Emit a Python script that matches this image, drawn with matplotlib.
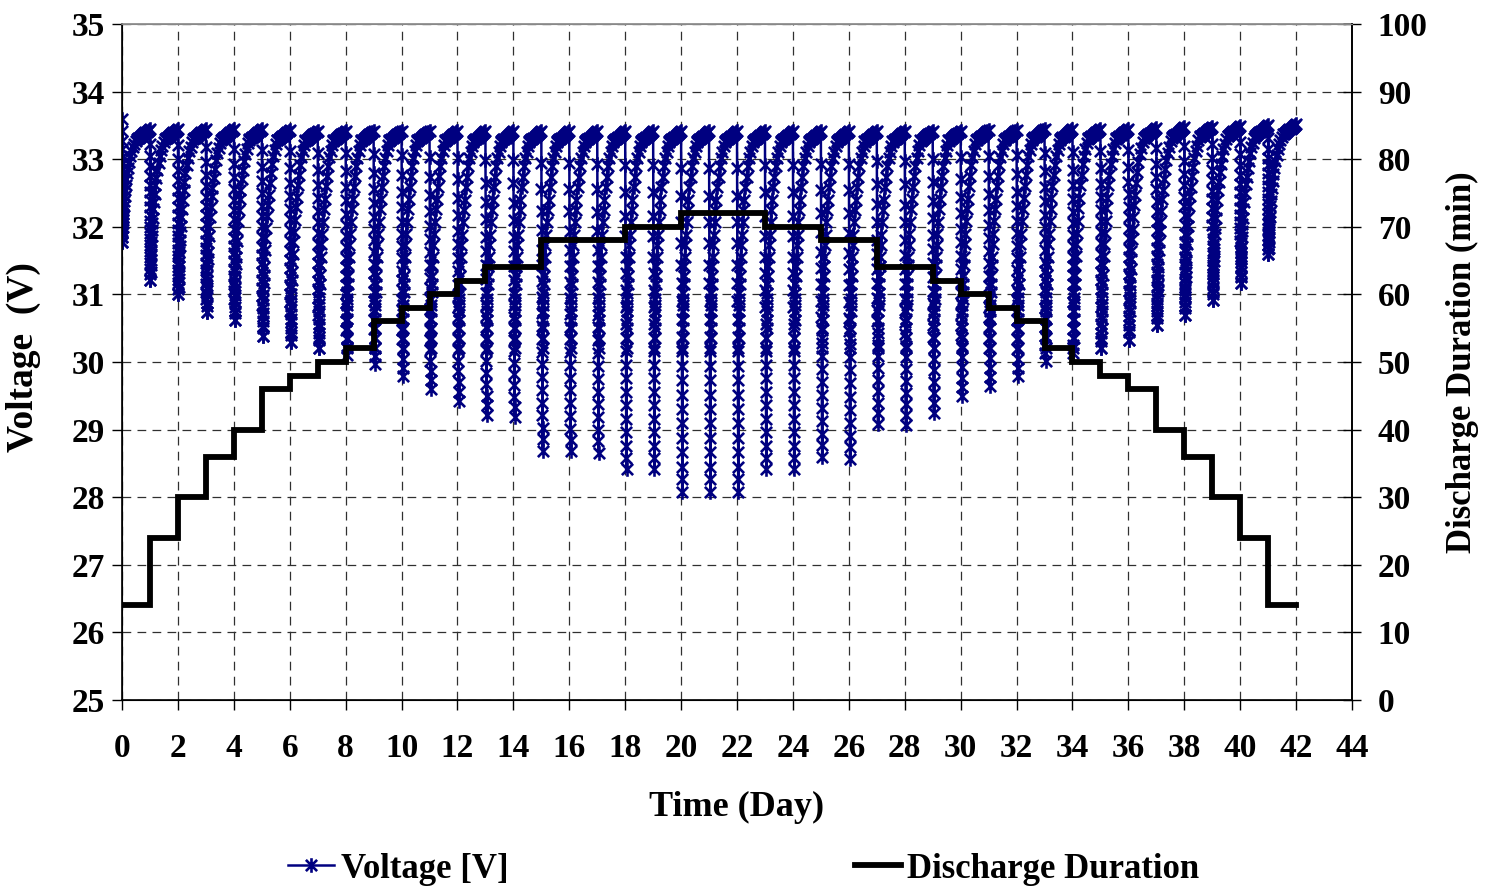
import numpy as np
import matplotlib
matplotlib.use("Agg")
import matplotlib.pyplot as plt
from matplotlib.path import Path

plt.rcParams['font.family'] = ['Liberation Serif', 'DejaVu Serif']
plt.rcParams['font.weight'] = 'bold'
plt.rcParams['font.size'] = 24

# discharge duration for each day 0..41 (min)
discharge_min = [14, 24, 30, 36, 40, 46, 48, 50, 52, 56, 58, 60, 62, 64, 64,
                 68, 68, 68, 70, 70, 72, 72, 72, 70, 70, 68, 68, 64, 64, 62,
                 60, 58, 56, 52, 50, 48, 46, 40, 36, 30, 24, 14]

# lowest voltage reached in each day's discharge (V)
day_min_v = [31.78, 31.22, 31.00, 30.74, 30.62, 30.39, 30.29, 30.21, 30.11, 29.97,
             29.79, 29.60, 29.42, 29.21, 29.19, 28.69, 28.68, 28.66, 28.41, 28.41,
             28.08, 28.08, 28.08, 28.41, 28.41, 28.60, 28.57, 29.09, 29.07, 29.25,
             29.49, 29.64, 29.79, 30.01, 30.13, 30.20, 30.33, 30.55, 30.70, 30.92,
             31.17, 31.60]

# float-charge voltage at the end of each day (V)
day_end_v = [33.45, 33.45, 33.45, 33.44, 33.44, 33.43, 33.42, 33.42, 33.42, 33.42,
             33.42, 33.42, 33.41, 33.41, 33.41, 33.41, 33.41, 33.41, 33.41, 33.41,
             33.41, 33.41, 33.41, 33.41, 33.41, 33.41, 33.41, 33.41, 33.42, 33.42,
             33.43, 33.43, 33.44, 33.44, 33.45, 33.45, 33.46, 33.47, 33.48, 33.49,
             33.50, 33.52]

first_v = 33.6          # reading at t = 0
recovery_floor = 30.2   # level the voltage jumps back to when charging resumes
float_drop = 0.15       # float voltage rise over one day

# discharge curve: share of the run time / share of the total drop
dis_t = [0.0, 0.05, 0.10, 0.15, 0.20, 0.25, 0.30, 0.35, 0.40, 0.45, 0.50,
         0.55, 0.60, 0.65, 0.70, 0.75, 0.80, 0.85, 0.90, 0.95, 1.0]
dis_f = [0.0, 0.10, 0.18, 0.25, 0.31, 0.37, 0.42, 0.47, 0.52, 0.57, 0.61,
         0.65, 0.69, 0.73, 0.77, 0.81, 0.85, 0.89, 0.93, 0.965, 1.0]

# recharge curve: days after discharge / share of the rise
rec_t = [0.0, 0.004, 0.008, 0.012, 0.016, 0.02, 0.025, 0.03, 0.04, 0.05, 0.065,
         0.08, 0.10, 0.12, 0.15, 0.18, 0.21, 0.25, 0.29, 0.33, 0.38, 0.43, 0.48, 0.53]
rec_f = [0.0, 0.05, 0.10, 0.14, 0.18, 0.21, 0.24, 0.27, 0.31, 0.35, 0.40,
         0.44, 0.50, 0.55, 0.61, 0.67, 0.72, 0.78, 0.83, 0.88, 0.92, 0.95, 0.98, 1.0]

# float charge for the rest of the day
flt_t = [0.56, 0.60, 0.64, 0.68, 0.72, 0.76, 0.80, 0.84, 0.88, 0.92, 0.96, 1.0]
flt_f = [0.05, 0.13, 0.22, 0.30, 0.39, 0.47, 0.56, 0.64, 0.73, 0.82, 0.91, 1.0]

# build the logged voltage series
t_day = [0.0]
volt = [first_v]
top = first_v
for d in range(len(discharge_min)):
    dur = discharge_min[d] / 1440.0
    vmin = day_min_v[d]
    for t, f in zip(dis_t[1:], dis_f[1:]):
        t_day.append(d + t * dur)
        volt.append(top - f * (top - vmin))
    r0 = max(vmin, recovery_floor)
    v_float0 = day_end_v[d] - float_drop
    for t, f in zip(rec_t, rec_f):
        t_day.append(d + dur + t)
        volt.append(r0 + f * (v_float0 - r0))
    for t, f in zip(flt_t, flt_f):
        t_day.append(d + t)
        volt.append(v_float0 + f * float_drop)
    top = day_end_v[d]

step_x = list(range(len(discharge_min) + 1))
step_y = discharge_min + [discharge_min[-1]]

# asterisk marker: an x with a vertical bar
star = Path([(-1, -1), (1, 1), (-1, 1), (1, -1), (0, -1.3), (0, 1.3)],
            [Path.MOVETO, Path.LINETO, Path.MOVETO, Path.LINETO, Path.MOVETO, Path.LINETO])

fig = plt.figure(figsize=(14.85, 8.9), dpi=100)
ax = fig.add_axes([122 / 1485, 1 - 700 / 890, 1230 / 1485, 676 / 890])
ax2 = ax.twinx()

navy = '#000080'
l1, = ax.plot(t_day, volt, color=navy, lw=1.8, marker=star, ms=10.5, mew=1.9,
              mfc='none', mec=navy, label='Voltage [V]')
l2, = ax2.plot(step_x, step_y, color='black', lw=4.2, drawstyle='steps-post',
               solid_joinstyle='miter', label='Discharge Duration')

ax.set_xlim(0, 44)
ax.set_ylim(25, 35)
ax.set_xticks(np.arange(0, 45, 2))
ax.set_yticks(np.arange(25, 36, 1))
ax2.set_ylim(0, 100)
ax2.set_yticks(np.arange(0, 101, 10))

ax.grid(True, color='#303030', lw=0.9, linestyle=(0, (7, 5)))
ax.set_axisbelow(True)

ax.tick_params(axis='both', direction='out', length=7, width=1, colors='black')
ax.tick_params(axis='x', pad=17)
ax.tick_params(axis='y', pad=5)
ax2.tick_params(axis='y', direction='inout', length=13, width=1, pad=12)

for sp in ax.spines.values():
    sp.set_linewidth(1.2)
    sp.set_color('black')
ax.spines['top'].set_color('#888888')
ax2.spines['top'].set_color('#888888')
ax2.spines['right'].set_linewidth(1.2)

ax.set_xlabel('Time (Day)', fontweight='bold', fontsize=26)
ax.set_ylabel('Voltage  (V)', fontweight='bold', fontsize=27)
ax2.set_ylabel('Discharge Duration (min)', fontweight='bold', fontsize=25)
ax.xaxis.set_label_coords(0.5, -0.135)
ax.yaxis.set_label_coords(-0.066, 0.507)
ax2.yaxis.set_label_coords(1.076, 0.5)

fig.legend(handles=[l1, l2], loc='center', bbox_to_anchor=(744 / 1485, 1 - 869 / 890),
           ncol=2, frameon=False, handlelength=1.3, handletextpad=0.2,
           columnspacing=10.0, borderaxespad=0, fontsize=25)

fig.savefig('out.png', dpi=100)
